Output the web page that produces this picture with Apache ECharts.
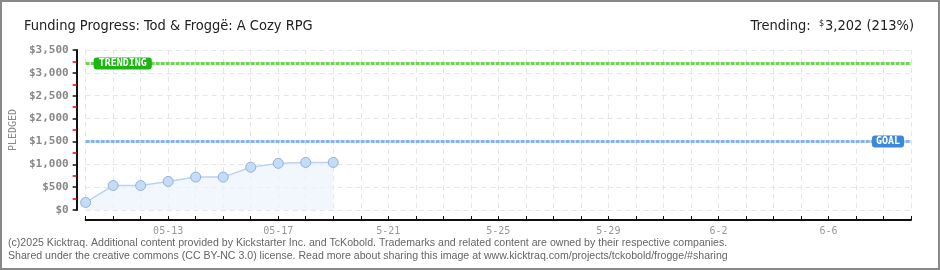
<!DOCTYPE html>
<html><head><meta charset="utf-8">
<script src="https://cdn.jsdelivr.net/npm/echarts@6/dist/echarts.min.js"></script>
<style>html,body{margin:0;padding:0;background:#fff}#c{width:940px;height:270px}</style>
</head><body><div id="c"></div>
<script>
const days = ['5-10','5-11','5-12','5-13','5-14','5-15','5-16','5-17','5-18','5-19','5-20','5-21','5-22','5-23','5-24','5-25','5-26','5-27','5-28','5-29','5-30','5-31','6-1','6-2','6-3','6-4','6-5','6-6','6-7','6-8','6-9'];
const tickLabels = {'5-13':'05-13','5-17':'05-17','5-21':'5-21','5-25':'5-25','5-29':'5-29','6-2':'6-2','6-6':'6-6'};
const pledged = [165, 535, 535, 625, 720, 720, 935, 1020, 1040, 1040];
const goal = 1500;
const trending = 3202;
const trendingPct = 213;
const titleText = 'Funding Progress: Tod & Froggë: A Cozy RPG';
const footer1 = '(c)2025 Kicktraq. Additional content provided by Kickstarter Inc. and TcKobold. Trademarks and related content are owned by their respective companies.';
const footer2 = 'Shared under the creative commons (CC BY-NC 3.0) license. Read more about sharing this image at www.kicktraq.com/projects/tckobold/frogge/#sharing';

const chart = echarts.init(document.getElementById('c'), null, {renderer:'canvas'});
const fmt = v => '$' + v.toLocaleString('en-US');
const tf = 'Liberation Sans Narrow, DejaVu Sans Condensed, sans-serif';
chart.setOption({
  animation:false,
  backgroundColor:'#fff',
  grid:{left:85, right:29, top:50, bottom:60, containLabel:false},
  title:[
    {text:titleText, left:19, top:14, textStyle:{fontFamily:tf, fontSize:14.5, fontWeight:'normal', color:'#222'}},
    {text:'{a|Trending:  }{s|$}{a|' + trending.toLocaleString('en-US') + ' (' + trendingPct + '%)}', right:21, top:14,
     textStyle:{fontWeight:'normal', rich:{a:{fontFamily:tf, fontSize:14.5, fontWeight:'normal', color:'#222'}, s:{fontFamily:tf, fontSize:9, fontWeight:'normal', color:'#222', verticalAlign:'top', padding:[0,1,6,0]}}}}
  ],
  xAxis:{
    type:'category', data:days, boundaryGap:false, offset:10,
    axisLine:{onZero:false, lineStyle:{color:'#111', width:2}},
    axisTick:{show:true, interval:0, inside:true, length:4, lineStyle:{color:'#111', width:1}},
    axisLabel:{interval:0, margin:6, color:'#999', fontSize:10, fontFamily:'DejaVu Sans Mono, monospace',
      formatter: v => tickLabels[v] || ''},
    splitLine:{show:true, interval:0, lineStyle:{color:'#e6e6e6', type:[5,4]}}
  },
  yAxis:{
    type:'value', min:0, max:3500, interval:500, offset:9,
    name:'PLEDGED', nameLocation:'middle', nameGap:55, nameRotate:90,
    nameTextStyle:{color:'#888', fontSize:10, fontFamily:'DejaVu Sans Mono, monospace'},
    axisLine:{show:true, lineStyle:{color:'#111', width:2}},
    axisTick:{show:true, length:4, lineStyle:{color:'#111', width:1.5}},
    minorTick:{show:true, splitNumber:2, length:4, lineStyle:{color:'#e00', width:1.5}},
    axisLabel:{color:'#888', fontSize:11, fontWeight:'bold', margin:8, fontFamily:'DejaVu Sans Mono, monospace', formatter:fmt},
    splitLine:{show:true, lineStyle:{color:'#e6e6e6', type:[5,4]}}
  },
  series:[{
    type:'line', data:pledged, symbol:'circle', symbolSize:10,
    lineStyle:{color:'#b8d3f1', width:1.5},
    itemStyle:{color:'#c4dcf6', borderColor:'#8fb2dc', borderWidth:1},
    areaStyle:{color:'#edf4fc'},
    markLine:{
      silent:true, symbol:['none','none'],
      data:[
        {yAxis:trending, lineStyle:{color:'#6fd452', width:3, type:[4,1]},
         label:{show:true, position:'insideStartTop', formatter:'TRENDING', distance:[8,0], verticalAlign:'middle',
           color:'#fff', backgroundColor:'#1db512', borderRadius:3, padding:[1,5,1,5], fontSize:10, fontWeight:'bold', fontFamily:'DejaVu Sans Mono, monospace'}},
        {yAxis:goal, lineStyle:{color:'#84b5ea', width:3, type:[4,1]},
         label:{show:true, position:'insideEndTop', formatter:'GOAL', distance:[7,0], verticalAlign:'middle',
           color:'#fff', backgroundColor:'#3b88dc', borderRadius:3, padding:[1,4,1,4], fontSize:10, fontWeight:'bold', fontFamily:'DejaVu Sans Mono, monospace'}}
      ]
    }
  }],
  graphic:[
    {type:'rect', shape:{x:1, y:1, width:938, height:268}, style:{fill:'none', stroke:'#888', lineWidth:2}, silent:true},
    {type:'text', left:8, top:238, style:{text:footer1, fill:'#666', font:'10.6px Liberation Sans, sans-serif'}},
    {type:'text', left:8, top:251, style:{text:footer2, fill:'#666', font:'10.6px Liberation Sans, sans-serif'}}
  ]
});
</script></body></html>
